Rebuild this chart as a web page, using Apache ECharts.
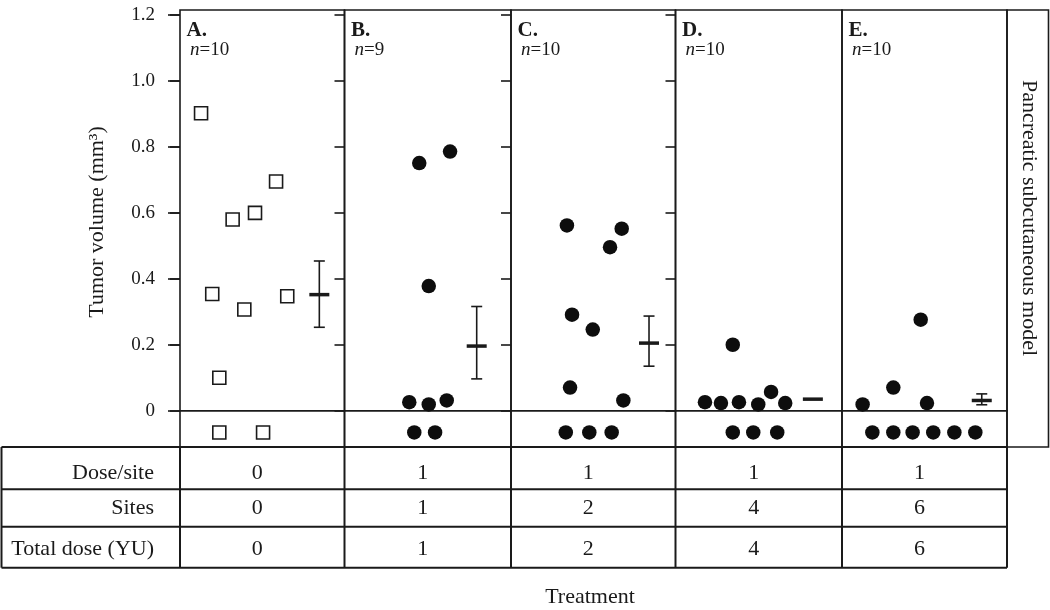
<!DOCTYPE html>
<html><head><meta charset="utf-8">
<script src="https://cdn.jsdelivr.net/npm/echarts@6/dist/echarts.min.js"></script>
<style>html,body{margin:0;padding:0;background:#fff}#c{width:1050px;height:610px}</style>
</head><body><div id="c"></div>
<script>
// ---------------- DATA ----------------
const panelLetters = ['A.', 'B.', 'C.', 'D.', 'E.'];
const panelN = [10, 9, 10, 10, 10];
const yTicks = [0, 0.2, 0.4, 0.6, 0.8, 1.0, 1.2];
// tumour volumes: [position within panel (0-1), volume mm3]
const volA = [[0.128,0.902],[0.584,0.695],[0.456,0.600],[0.320,0.580],[0.196,0.354],[0.391,0.307],[0.652,0.347],[0.239,0.100]];
const volB = [[0.449,0.751],[0.634,0.786],[0.506,0.378],[0.389,0.026],[0.506,0.019],[0.614,0.031]];
const volC = [[0.340,0.562],[0.673,0.552],[0.602,0.496],[0.371,0.291],[0.497,0.246],[0.359,0.070],[0.683,0.031]];
const volD = [[0.344,0.200],[0.177,0.026],[0.273,0.023],[0.381,0.026],[0.497,0.019],[0.574,0.057],[0.659,0.023]];
const volE = [[0.125,0.019],[0.311,0.070],[0.477,0.276],[0.515,0.023]];
// animals without tumour (strip below zero): position within panel
const zeroA = [0.239, 0.505];
const zeroB = [0.419, 0.544];
const zeroC = [0.333, 0.476, 0.612];
const zeroD = [0.344, 0.467, 0.611];
const zeroE = [0.184, 0.311, 0.428, 0.553, 0.681, 0.808];
// mean and error bar: [position, mean, low, high]
const meanA = [0.847, 0.352, 0.253, 0.454];
const meanB = [0.794, 0.196, 0.0965, 0.316];
const meanC = [0.839, 0.205, 0.135, 0.287];
const meanD = [0.825, 0.035, 0.035, 0.035];
const meanE = [0.847, 0.031, 0.018, 0.051];
// table
const rowLabels = ['Dose/site', 'Sites', 'Total dose (YU)'];
const dosePerSite = [0, 1, 1, 1, 1];
const sites = [0, 1, 2, 4, 6];
const totalDose = [0, 1, 2, 4, 6];
const yTitle = 'Tumor volume (mm³)';
const xTitle = 'Treatment';
const sideTitle = 'Pancreatic subcutaneous model';

// ---------------- LAYOUT ----------------
const FONT = '"Liberation Serif","Times New Roman",serif';
const INK = '#1a1a1a';
const edges = [180, 344.5, 511, 675.5, 842, 1007];
const plotTop = 10, zeroY = 410.7, stripBottom = 447;
const yMax = 1.2 * (zeroY - plotTop) / (zeroY - 15);
const rowLines = [447, 489.3, 526.7, 567.7];
const rowTextY = [473.7, 508, 549];
const STRIP_LEVEL = 0.4;

const vols = [volA, volB, volC, volD, volE];
const zeros = [zeroA, zeroB, zeroC, zeroD, zeroE];
const means = [meanA, meanB, meanC, meanD, meanE];
const tableRows = [dosePerSite, sites, totalDose];

const grid = [], xAxis = [], yAxis = [], series = [], graphic = [];
for (let k = 0; k < 5; k++) {
  const left = edges[k], width = edges[k + 1] - edges[k];
  grid.push({ left, width, top: plotTop, height: zeroY - plotTop, show: true,
    borderColor: INK, borderWidth: 1.6, backgroundColor: 'transparent', outerBoundsMode: 'none' });
}
for (let k = 0; k < 5; k++) {
  const left = edges[k], width = edges[k + 1] - edges[k];
  grid.push({ left, width, top: zeroY, height: stripBottom - zeroY, show: true,
    borderColor: INK, borderWidth: 1.6, backgroundColor: 'transparent', outerBoundsMode: 'none' });
}
for (let g = 0; g < 10; g++) {
  xAxis.push({ type: 'value', gridIndex: g, min: 0, max: 1, show: false });
}
for (let k = 0; k < 5; k++) {
  yAxis.push({ type: 'value', gridIndex: k, min: 0, max: yMax, position: 'right',
    axisLine: { show: false }, splitLine: { show: false }, axisLabel: { show: false },
    axisTick: { show: k < 4, inside: true, length: 10, lineStyle: { color: INK, width: 1.6 }, customValues: yTicks } });
}
for (let k = 0; k < 5; k++) {
  yAxis.push({ type: 'value', gridIndex: 5 + k, min: 0, max: 1, show: false });
}
yAxis.push({ type: 'value', gridIndex: 0, min: 0, max: yMax, position: 'left',
  axisLine: { show: false }, splitLine: { show: false },
  axisTick: { show: true, inside: false, length: 12, lineStyle: { color: INK, width: 1.6 }, customValues: yTicks },
  axisLabel: { show: true, margin: 25, fontSize: 19, fontFamily: FONT, color: INK, customValues: yTicks,
    formatter: v => (v === 0 ? '0' : v.toFixed(1)) } });

for (let k = 0; k < 5; k++) {
  const isSquare = k === 0;
  const sym = isSquare
    ? { symbol: 'rect', symbolSize: 13, itemStyle: { color: '#fff', borderColor: INK, borderWidth: 1.6, opacity: 1 } }
    : { symbol: 'circle', symbolSize: 14.5, itemStyle: { color: '#0d0d0d', opacity: 1 } };
  series.push(Object.assign({ type: 'scatter', xAxisIndex: k, yAxisIndex: k, data: vols[k], clip: false, z: 3 }, sym));
  series.push(Object.assign({ type: 'scatter', xAxisIndex: 5 + k, yAxisIndex: 5 + k,
    data: zeros[k].map(x => [x, STRIP_LEVEL]), clip: false, z: 3 }, sym));
  series.push({ type: 'custom', xAxisIndex: k, yAxisIndex: k, data: [means[k]], z: 4, clip: false,
    renderItem: (params, api) => {
      const x = api.value(0), m = api.value(1), lo = api.value(2), hi = api.value(3);
      const pm = api.coord([x, m]), pl = api.coord([x, lo]), ph = api.coord([x, hi]);
      const st = { stroke: INK, lineWidth: 1.6 };
      const ch = [];
      if (Math.abs(pl[1] - ph[1]) > 0.5) {
        ch.push({ type: 'line', shape: { x1: pl[0], y1: pl[1], x2: ph[0], y2: ph[1] }, style: st });
        ch.push({ type: 'line', shape: { x1: pl[0] - 5.5, y1: pl[1], x2: pl[0] + 5.5, y2: pl[1] }, style: st });
        ch.push({ type: 'line', shape: { x1: ph[0] - 5.5, y1: ph[1], x2: ph[0] + 5.5, y2: ph[1] }, style: st });
      }
      ch.push({ type: 'line', shape: { x1: pm[0] - 10, y1: pm[1], x2: pm[0] + 10, y2: pm[1] }, style: { stroke: INK, lineWidth: 3.5 } });
      return { type: 'group', children: ch };
    } });
}

// panel labels
for (let k = 0; k < 5; k++) {
  graphic.push({ type: 'text', x: edges[k] + 6.5, y: 30.5, style: { text: panelLetters[k], fontSize: 21, fontWeight: 'bold',
    fontFamily: FONT, fill: INK, align: 'left', verticalAlign: 'middle' } });
  graphic.push({ type: 'text', x: edges[k] + 10, y: 50, style: { text: '{i|n}=' + panelN[k], fontSize: 19,
    fontFamily: FONT, fill: INK, align: 'left', verticalAlign: 'middle',
    rich: { i: { fontStyle: 'italic', fontSize: 19, fontFamily: FONT, fill: INK } } } });
}
// side box
graphic.push({ type: 'rect', shape: { x: 1007, y: plotTop, width: 41.5, height: stripBottom - plotTop },
  style: { fill: 'none', stroke: INK, lineWidth: 1.6 } });
graphic.push({ type: 'text', x: 1028.5, y: 218, rotation: -Math.PI / 2,
  style: { text: sideTitle, fontSize: 22, fontFamily: FONT, fill: INK, align: 'center', verticalAlign: 'middle' } });
// y title
graphic.push({ type: 'text', x: 97, y: 222, rotation: Math.PI / 2,
  style: { text: yTitle, fontSize: 22, fontFamily: FONT, fill: INK, align: 'center', verticalAlign: 'middle' } });
// table lines
const tLeft = 1.5, tRight = 1007;
rowLines.forEach(y => graphic.push({ type: 'line', shape: { x1: tLeft, y1: y, x2: tRight, y2: y }, style: { stroke: INK, lineWidth: 2 } }));
[tLeft].concat(edges).forEach(x => graphic.push({ type: 'line', shape: { x1: x, y1: rowLines[0], x2: x, y2: rowLines[3] }, style: { stroke: INK, lineWidth: 2 } }));
// table text
for (let r = 0; r < 3; r++) {
  graphic.push({ type: 'text', x: 154, y: rowTextY[r], style: { text: rowLabels[r], fontSize: 22, fontFamily: FONT, fill: INK, align: 'right', verticalAlign: 'middle' } });
  for (let k = 0; k < 5; k++) {
    graphic.push({ type: 'text', x: (edges[k] + edges[k + 1]) / 2 - 5, y: rowTextY[r],
      style: { text: String(tableRows[r][k]), fontSize: 22, fontFamily: FONT, fill: INK, align: 'center', verticalAlign: 'middle' } });
  }
}
graphic.push({ type: 'text', x: 590, y: 597, style: { text: xTitle, fontSize: 22, fontFamily: FONT, fill: INK, align: 'center', verticalAlign: 'middle' } });

const chart = echarts.init(document.getElementById('c'), null, { renderer: 'canvas' });
chart.setOption({ animation: false, backgroundColor: '#fff', grid, xAxis, yAxis, series, graphic });
</script>
</body></html>
